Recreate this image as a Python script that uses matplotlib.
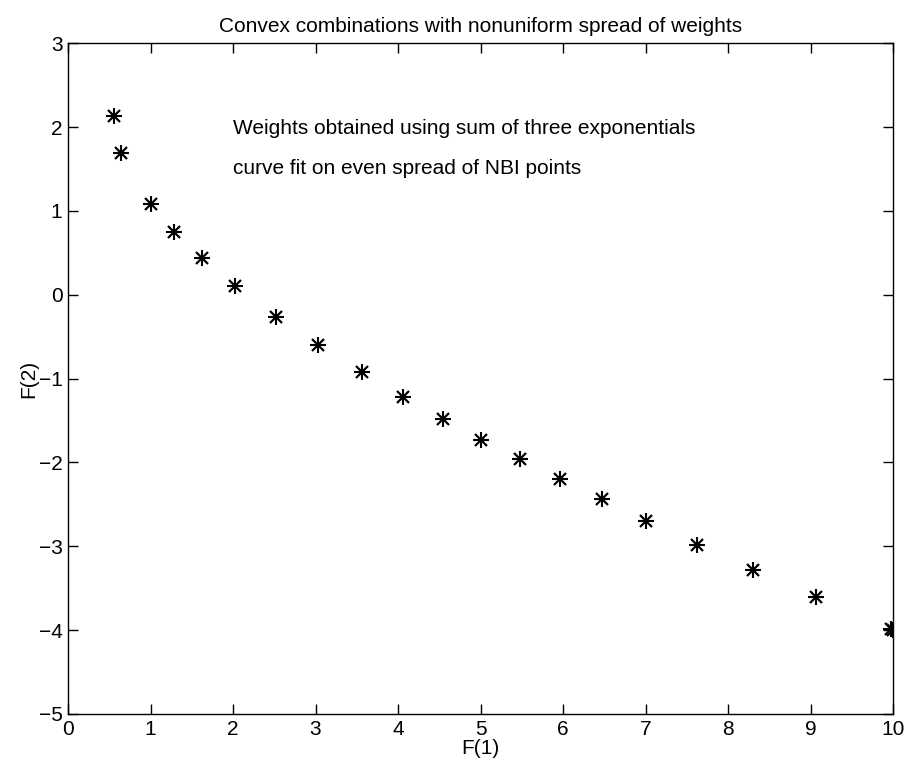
import numpy as np
import matplotlib.pyplot as plt

plt.rcParams['font.family'] = ['Liberation Sans', 'DejaVu Sans']

# Pareto points from convex combinations (F(1), F(2))
f1 = [0.56, 0.64, 1.00, 1.29, 1.62, 2.03, 2.52, 3.03, 3.56, 4.06,
      4.55, 5.01, 5.48, 5.96, 6.47, 7.01, 7.62, 8.30, 9.07, 9.97, 10.0]
f2 = [2.13, 1.69, 1.08, 0.75, 0.44, 0.10, -0.26, -0.60, -0.92, -1.22,
      -1.48, -1.73, -1.96, -2.20, -2.44, -2.70, -2.98, -3.28, -3.61, -3.99, -4.0]

fig = plt.figure(figsize=(9.08, 7.71), dpi=100)
ax = fig.add_axes([0.0749, 0.074, 0.9086, 0.870])

# matlab-style '*' marker: plus and cross overlaid
ax.plot(f1, f2, linestyle='none', marker='+', color='k', markersize=11, markeredgewidth=1.5)
ax.plot(f1, f2, linestyle='none', marker='x', color='k', markersize=8.5, markeredgewidth=1.6)

ax.set_xlim(0, 10)
ax.set_ylim(-5, 3)
ax.set_xticks(np.arange(0, 11, 1))
ax.set_yticks(np.arange(-5, 4, 1))
ax.set_yticklabels([str(v).replace('-', '\u2212') for v in range(-5, 4)])
ax.tick_params(direction='in', length=7, width=1, top=True, right=True,
               labelsize=15, pad=4)
for s in ax.spines.values():
    s.set_linewidth(1)

ax.set_title('Convex combinations with nonuniform spread of weights', fontsize=15, pad=8)
ax.set_xlabel('F(1)', fontsize=15, labelpad=0)
ax.set_ylabel('F(2)', fontsize=15, labelpad=0)

ax.text(2.0, 1.98, 'Weights obtained using sum of three exponentials', fontsize=15, va='center')
ax.text(2.0, 1.50, 'curve fit on even spread of NBI points', fontsize=15, va='center')

fig.savefig('out.png', dpi=100)
